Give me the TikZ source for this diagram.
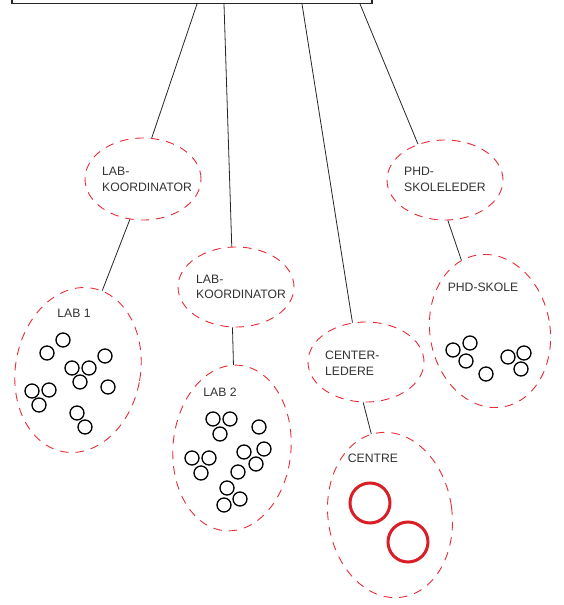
\documentclass[tikz,border=0pt]{standalone}
\usepackage{fontspec}
\setmainfont{Liberation Sans}
\usetikzlibrary{shapes.geometric}
\definecolor{dashred}{RGB}{230,45,55}
\definecolor{solidred}{RGB}{218,30,38}
\definecolor{txt}{RGB}{50,50,50}
\tikzset{
  grp/.style={ellipse, draw=dashred, line width=0.9pt, dash pattern=on 8.5pt off 7pt, inner sep=0pt},
  lbl/.style={text=txt, font=\fontsize{12.2}{15.5}\selectfont, inner sep=0pt, align=left, anchor=west},
  clbl/.style={text=txt, font=\fontsize{12.2}{15.5}\selectfont, inner sep=0pt},
  conn/.style={draw=black!85, line width=0.8pt},
  sc/.style={draw=black, line width=1.3pt},
  bc/.style={draw=solidred, line width=3pt}
}
\begin{document}
\begin{tikzpicture}[x=1pt,y=-1pt]
\useasboundingbox (0,0) rectangle (563,605);
% top box
\draw[line width=1.5pt, draw=black!85] (12,-20) rectangle (372,3.5);
\coordinate (t1) at (197,4);
\coordinate (t2) at (224,4);
\coordinate (t3) at (302,4);
\coordinate (t4) at (360,4);
% coordinator ellipses
\node[grp, minimum width=116pt, minimum height=82pt] (A) at (143,179) {};
\node[lbl] (Atx) at (102,179.5) {LAB-\\KOORDINATOR};
\node[grp, minimum width=116pt, minimum height=80pt] (B) at (236,287) {};
\node[lbl] (Btx) at (196,287) {LAB-\\KOORDINATOR};
\node[grp, minimum width=116pt, minimum height=80pt] (C) at (366,362) {};
\node[lbl] (Ctx) at (325,363) {CENTER-\\LEDERE};
\node[grp, minimum width=116pt, minimum height=80pt] (D) at (445,180) {};
\node[lbl] (Dtx) at (404,179.5) {PHD-\\SKOLELEDER};
% group ellipses
\node[grp, minimum width=125pt, minimum height=166pt, rotate=-10] (L1) at (78,370) {};
\node[clbl] (L1tx) at (74,313) {LAB 1};
\node[grp, minimum width=118pt, minimum height=166pt, rotate=-5] (L2) at (232,448) {};
\node[clbl] (L2tx) at (220,392) {LAB 2};
\node[grp, minimum width=124pt, minimum height=166pt, rotate=8] (CE) at (390,515) {};
\node[clbl] (CEtx) at (373,458) {CENTRE};
\node[grp, minimum width=120pt, minimum height=154pt, rotate=10] (PS) at (490,331) {};
\node[clbl] (PStx) at (483,287) {PHD-SKOLE};
% connectors
\draw[conn] (t1) -- (A.78);
\draw[conn] (t2) -- (B.96);
\draw[conn] (t3) -- (C.109);
\draw[conn] (t4) -- (D.127);
\draw[conn] (A.252) -- (L1.83);
\draw[conn] (B.265) -- (L2.94);
\draw[conn] (C.266) -- (CE.95);
\draw[conn] (D.274) -- (PS.102);
% LAB 1 members
\foreach \p in {(63,340),(47,353),(105,356),(72,368),(89,368),(80,382),(108,387),(32,391),(49,390),(39,405),(77,413),(85,427)}
  \draw[sc] \p circle[radius=7pt];
% LAB 2 members
\foreach \p in {(213,419),(230,419),(220,434),(259,427),(244,452),(264,449),(256,464),(192,458),(209,458),(201,473),(238,472),(227,488),(240,499),(224,505)}
  \draw[sc] \p circle[radius=7pt];
% PHD-SKOLE members
\foreach \p in {(453,350),(470,343),(466,361),(486,374),(508,357),(524,353),(521,369)}
  \draw[sc] \p circle[radius=7pt];
% CENTRE members
\draw[bc] (370,503) circle[radius=20pt];
\draw[bc] (408,542) circle[radius=20pt];
\end{tikzpicture}
\end{document}
